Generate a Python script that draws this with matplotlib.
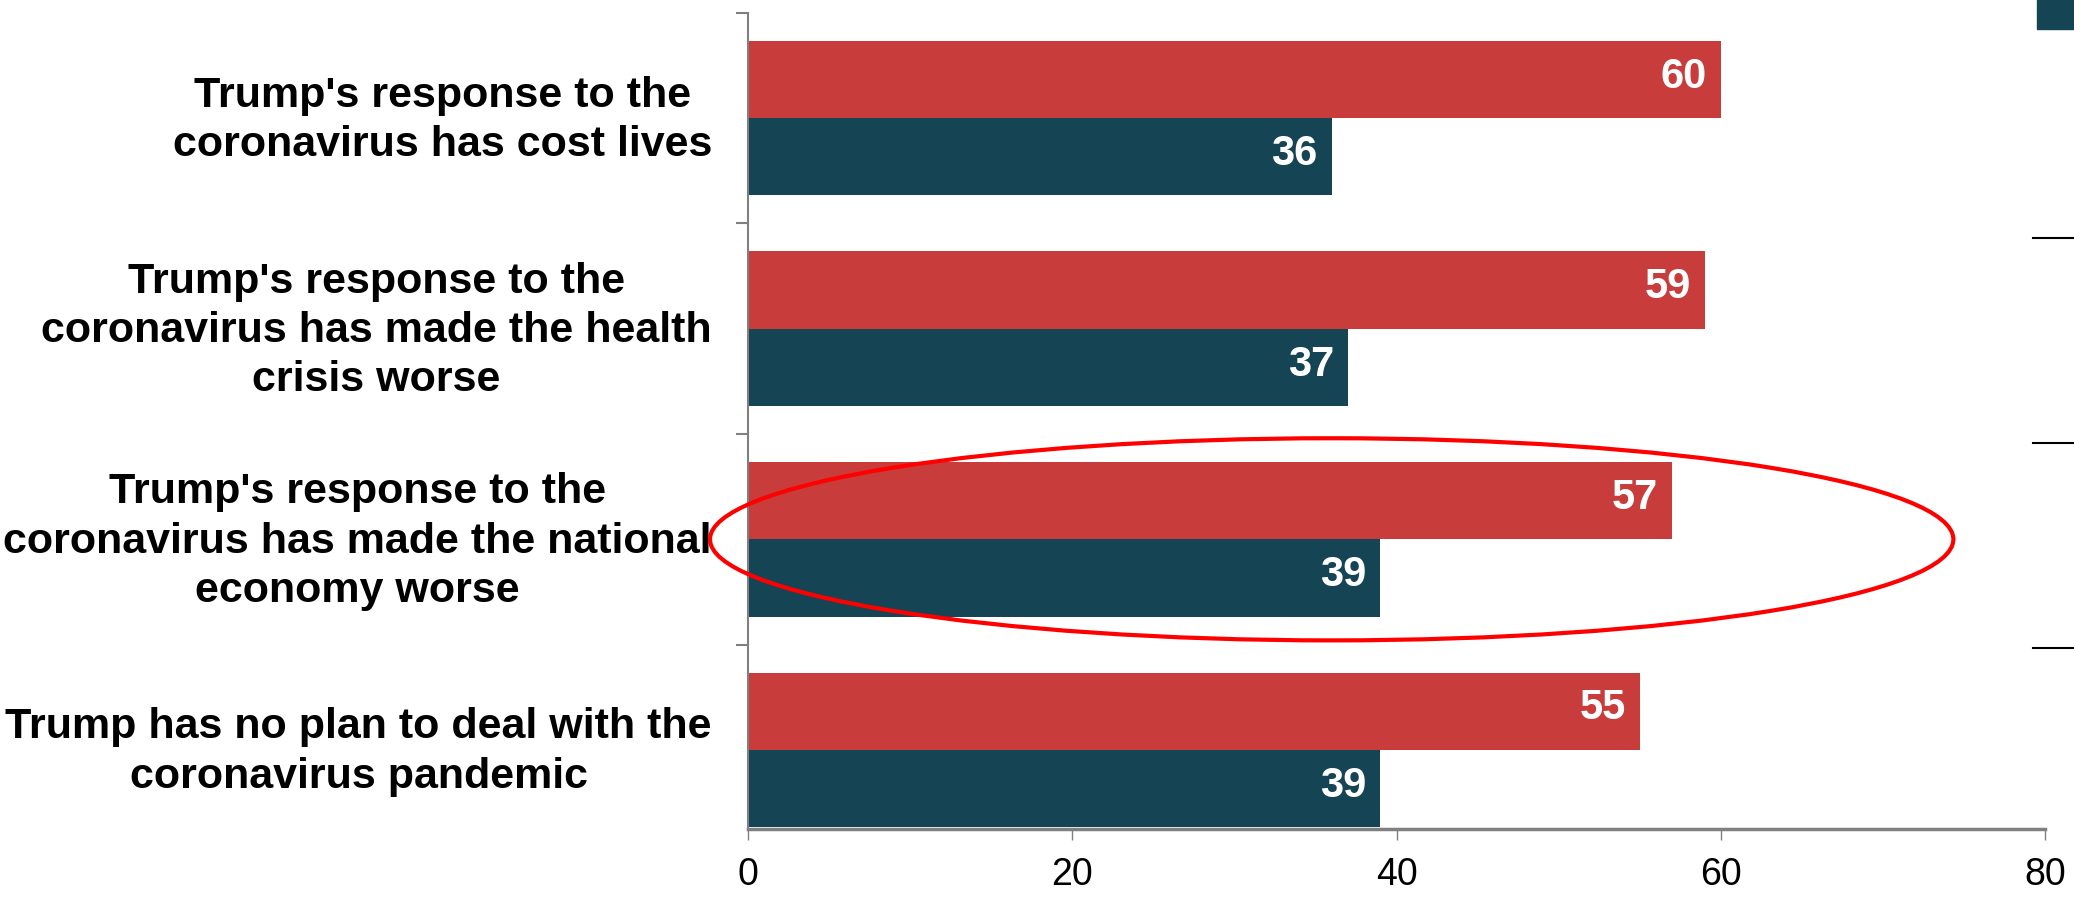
import matplotlib.pyplot as plt
import matplotlib.transforms as mtransforms
from matplotlib.patches import Ellipse, Rectangle
from matplotlib.lines import Line2D
import numpy as np

# data
categories = [
    "Trump's response to the\ncoronavirus has cost lives",
    "Trump's response to the\ncoronavirus has made the health\ncrisis worse",
    "Trump's response to the\ncoronavirus has made the national\neconomy worse",
    "Trump has no plan to deal with the\ncoronavirus pandemic",
]
agree = [60, 59, 57, 55]      # red bars
disagree = [36, 37, 39, 39]   # dark teal bars
x_ticks = [0, 20, 40, 60, 80]

red = '#C83C3C'
teal = '#154454'
grey = '#808080'

plt.rcParams['font.family'] = ['Liberation Sans', 'DejaVu Sans']

fig = plt.figure(figsize=(20.74, 9.23), dpi=100)
ax = fig.add_axes([0.3607, 0.1018, 0.986 - 0.3607, 0.986 - 0.1018])

y = np.arange(len(categories))
h = 0.367
bars_r = ax.barh(y - h / 2, agree, height=h, color=red, edgecolor='none')
bars_t = ax.barh(y + h / 2, disagree, height=h, color=teal, edgecolor='none')

# value labels inside bar ends
for bars in (bars_r, bars_t):
    for b in bars:
        ax.annotate(f'{b.get_width():.0f}',
                    xy=(b.get_width(), b.get_y() + b.get_height() / 2),
                    xytext=(-10, 2), textcoords='offset points',
                    ha='right', va='center', color='white',
                    fontsize=30, fontweight='bold')

ax.set_xlim(0, 80)
ax.set_ylim(3.376, -0.5)

ax.set_yticks(y)
ax.set_yticklabels(categories, fontsize=31, fontweight='bold',
                   multialignment='center', linespacing=1.3)
ax.set_yticks(np.arange(-0.5, len(categories) - 0.5, 1), minor=True)
ax.tick_params(axis='y', which='major', length=0, pad=26)
ax.tick_params(axis='y', which='minor', length=9, width=1.5, color=grey)

# nudge category labels up a little
shift = mtransforms.ScaledTranslation(0, 5 / 72, fig.dpi_scale_trans)
for lab in ax.get_yticklabels():
    lab.set_transform(lab.get_transform() + shift)

ax.set_xticks(x_ticks)
ax.tick_params(axis='x', length=8, width=1, color=grey, labelsize=27, pad=12)

for s in ('top', 'right'):
    ax.spines[s].set_visible(False)
for s in ('left', 'bottom'):
    ax.spines[s].set_color(grey)
    ax.spines[s].set_linewidth(1.5)
ax.spines['bottom'].set_linewidth(2.5)

# red highlight ellipse around the economy row
ell = Ellipse((36.0, 2.0), width=76.7, height=0.96, fill=False,
              edgecolor='#FF0000', linewidth=3, clip_on=False, zorder=5)
ax.add_patch(ell)

# cut-off legend pieces at the right edge
W, H = 2074, 923
fig.add_artist(Rectangle((2037 / W, 1 - 29 / H), 37 / W, 29 / H,
                         transform=fig.transFigure, color=teal))
for yy in (238, 443, 648):
    fig.add_artist(Line2D([2033 / W, 1.0], [1 - yy / H, 1 - yy / H],
                          transform=fig.transFigure, color='black', lw=1.5))

fig.savefig('out.png', dpi=100)
